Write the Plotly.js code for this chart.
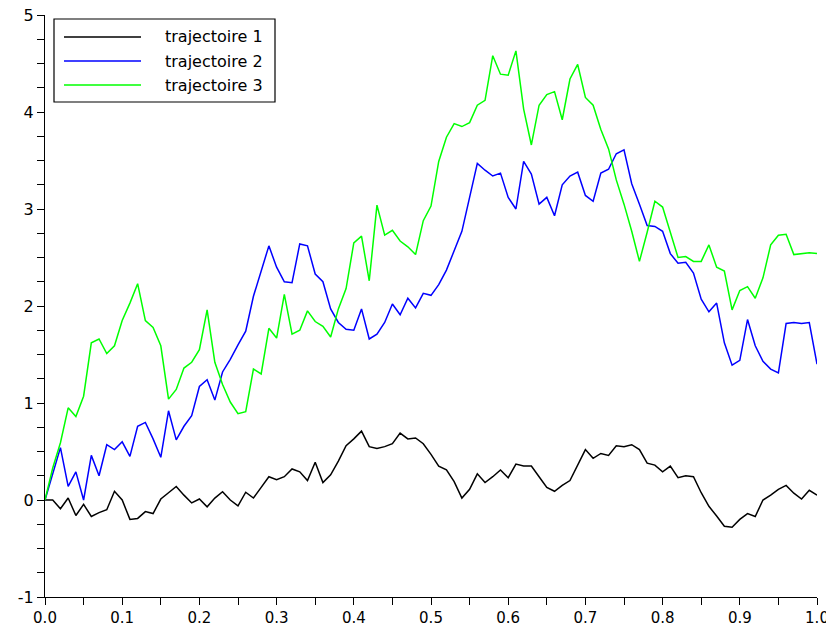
<!DOCTYPE html>
<html><head><meta charset="utf-8">
<script src="https://cdn.plot.ly/plotly-3.0.1.min.js"></script>
<style>html,body{margin:0;padding:0;background:#fff}#chart{width:826px;height:626px}</style>
</head><body><div id="chart"></div>
<script>
const tValues = Array.from({length:101},(_,i)=>+(i/100).toFixed(2));
const traj1 = [0,0,-0.09,0.02,-0.16,-0.045,-0.17,-0.13,-0.10,0.09,0,-0.2,-0.19,-0.12,-0.14,0.01,0.075,0.14,0.05,-0.03,0.01,-0.07,0.02,0.085,0,-0.06,0.08,0.02,0.13,0.24,0.21,0.24,0.32,0.29,0.20,0.39,0.18,0.26,0.40,0.56,0.63,0.71,0.55,0.53,0.55,0.58,0.69,0.63,0.64,0.58,0.47,0.35,0.31,0.19,0.02,0.11,0.27,0.18,0.24,0.31,0.23,0.37,0.35,0.35,0.24,0.13,0.09,0.15,0.20,0.36,0.52,0.43,0.48,0.46,0.56,0.55,0.57,0.52,0.38,0.36,0.29,0.35,0.23,0.25,0.24,0.075,-0.065,-0.165,-0.27,-0.28,-0.2,-0.14,-0.17,0,0.05,0.11,0.15,0.07,0.01,0.10,0.05];
const traj2 = [0,0.26,0.54,0.14,0.29,0,0.46,0.25,0.57,0.52,0.60,0.45,0.76,0.80,0.63,0.44,0.92,0.62,0.76,0.87,1.17,1.24,1.03,1.32,1.45,1.60,1.74,2.10,2.35,2.62,2.40,2.25,2.24,2.64,2.62,2.33,2.25,1.97,1.83,1.76,1.75,1.97,1.66,1.71,1.83,2.02,1.91,2.08,1.98,2.13,2.11,2.22,2.37,2.56,2.77,3.12,3.47,3.40,3.34,3.37,3.12,3.00,3.49,3.36,3.05,3.12,2.93,3.25,3.34,3.38,3.14,3.08,3.37,3.41,3.57,3.61,3.26,3.05,2.83,2.82,2.77,2.54,2.44,2.45,2.34,2.07,1.94,2.03,1.62,1.39,1.44,1.86,1.59,1.43,1.35,1.31,1.82,1.83,1.82,1.83,1.40];
const traj3 = [0,0.33,0.59,0.95,0.86,1.07,1.62,1.66,1.51,1.59,1.85,2.03,2.23,1.85,1.78,1.59,1.04,1.14,1.36,1.42,1.55,1.96,1.42,1.19,1.01,0.89,0.91,1.35,1.30,1.77,1.67,2.12,1.71,1.75,1.95,1.84,1.79,1.68,1.97,2.18,2.65,2.72,2.26,3.04,2.73,2.78,2.67,2.61,2.53,2.88,3.03,3.49,3.74,3.88,3.85,3.89,4.07,4.12,4.58,4.39,4.38,4.63,4.03,3.66,4.07,4.18,4.21,3.92,4.34,4.49,4.15,4.07,3.82,3.62,3.30,3.05,2.77,2.46,2.76,3.08,3.02,2.76,2.50,2.51,2.46,2.46,2.63,2.40,2.36,1.96,2.16,2.20,2.08,2.29,2.63,2.73,2.74,2.53,2.54,2.55,2.54];
const names = ['trajectoire 1','trajectoire 2','trajectoire 3'];
const colors = ['#000000','#0000ff','#00ff00'];
const series = [traj1, traj2, traj3];
const xTickVals = [0,0.1,0.2,0.3,0.4,0.5,0.6,0.7,0.8,0.9,1.0];
const xTickText = ['0.0','0.1','0.2','0.3','0.4','0.5','0.6','0.7','0.8','0.9','1.0'];
const yTickVals = [-1,0,1,2,3,4,5];
const yTickText = ['-1','0','1','2','3','4','5'];

// plot area in pixels (for legend placement)
const L = 45, R = 817, T = 15, B = 597;
const px = v => (v - L) / (R - L);
const py = v => (B - v) / (B - T);

const data = series.map((s,k)=>({x:tValues,y:s,type:'scatter',mode:'lines',name:names[k],line:{color:colors[k],width:1.5},showlegend:false}));
const font = {family:'DejaVu Sans, Verdana, sans-serif',size:16,color:'#000'};
const xFont = {family:'DejaVu Sans, Verdana, sans-serif',size:15,color:'#000'};

const shapes = [{type:'rect',xref:'paper',yref:'paper',x0:px(54),x1:px(275),y0:py(19),y1:py(102),line:{color:'#000',width:1.2},fillcolor:'#fff',layer:'above'}];
const annotations = [];
const rowY = [37,61,85];
names.forEach((n,k)=>{
  shapes.push({type:'line',xref:'paper',yref:'paper',x0:px(64),x1:px(141),y0:py(rowY[k]),y1:py(rowY[k]),line:{color:colors[k],width:1.5},layer:'above'});
  annotations.push({xref:'paper',yref:'paper',x:px(163),y:py(rowY[k]),xanchor:'left',yanchor:'middle',text:n,showarrow:false,font:font});
});

const axisCommon = {showgrid:false,zeroline:false,showline:true,linecolor:'#000',linewidth:1,ticks:'outside',ticklen:7,tickcolor:'#000',ticklabeloverflow:'allow'};
const layout = {
  width:826,height:626,
  margin:{l:45,r:9,t:15,b:29},
  paper_bgcolor:'#fff',plot_bgcolor:'#fff',
  font:font,
  showlegend:false,
  shapes:shapes,
  annotations:annotations,
  xaxis:Object.assign({range:[0,1],tickvals:xTickVals,ticktext:xTickText,tickfont:xFont,
         minor:{dtick:0.05,tick0:0,ticks:'outside',ticklen:7,tickcolor:'#000',showgrid:false}},axisCommon),
  yaxis:Object.assign({range:[-1,5],tickvals:yTickVals,ticktext:yTickText,tickfont:font,
         minor:{dtick:0.25,tick0:0,ticks:'outside',ticklen:7,tickcolor:'#000',showgrid:false}},axisCommon)
};
Plotly.newPlot('chart',data,layout,{displayModeBar:false,staticPlot:true});
</script></body></html>
